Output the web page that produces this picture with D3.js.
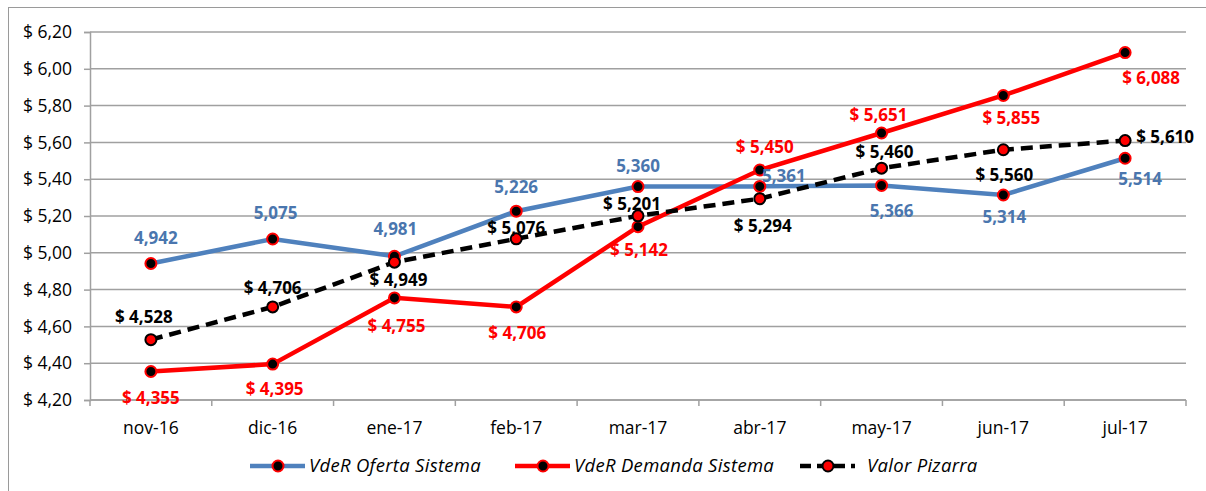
<!DOCTYPE html>
<html>
<head>
<meta charset="utf-8">
<script src="https://cdn.jsdelivr.net/npm/d3@7"></script>
<style>
  body { margin: 0; background: #fff; }
  svg { display: block; font-family: "Open Sans", "Noto Sans", sans-serif; }
</style>
</head>
<body>
<svg></svg>
<script>
///////////////////////////////////////////
// Data
var months = ["nov-16", "dic-16", "ene-17", "feb-17", "mar-17", "abr-17", "may-17", "jun-17", "jul-17"];
var oferta = [4.942, 5.075, 4.981, 5.226, 5.360, 5.361, 5.366, 5.314, 5.514];
var demanda = [4.355, 4.395, 4.755, 4.706, 5.142, 5.450, 5.651, 5.855, 6.088];
var pizarra = [4.528, 4.706, 4.949, 5.076, 5.201, 5.294, 5.460, 5.560, 5.610];
var yTicks = [4.20, 4.40, 4.60, 4.80, 5.00, 5.20, 5.40, 5.60, 5.80, 6.00, 6.20];
var seriesNames = ["VdeR Oferta Sistema", "VdeR Demanda Sistema", "Valor Pizarra"];

// label placement per point: [dx, dy] relative to the point (label centre)
var ofertaLbl = [[5,-26],[3,-26],[1,-27],[0,-24],[0,-21],[24,-10],[10,25],[1,22],[15,21]];
var demandaLbl = [[0,26],[2,25],[2,28],[1,26],[1,23],[5,-23],[-3,-18],[8,22],[26,25]];
var pizarraLbl = [[-7,-23],[0,-19],[4,18],[0,-11],[-6,-12],[3,27],[3,-16],[1,25],[40,-4]];

///////////////////////////////////////////
// Layout
var svgWidth = 1206, svgHeight = 491;
var margin = {top: 32, right: 20, bottom: 91, left: 90};
var width = 1186 - margin.left,
    height = 400 - margin.top;

var svg = d3.select("svg").attr("width", svgWidth).attr("height", svgHeight);

// chart frame
svg.append("rect")
  .attr("x", 8.5).attr("y", 7.5)
  .attr("width", 1210).attr("height", 500)
  .attr("fill", "none").attr("stroke", "#9a9a9a").attr("stroke-width", 1);

var g = svg.append("g").attr("transform", "translate(" + margin.left + "," + margin.top + ")");

var x = d3.scaleBand().domain(months).range([0, width]);
var y = d3.scaleLinear().domain([4.20, 6.20]).range([height, 0]);
var fmt = d3.format(".3f");
function comma(v) { return fmt(v).replace(".", ","); }

// gridlines
g.append("g").selectAll("line").data(yTicks).enter().append("line")
  .attr("x1", 0).attr("x2", width)
  .attr("y1", function(d){ return y(d); }).attr("y2", function(d){ return y(d); })
  .attr("stroke", "#a0a0a0").attr("stroke-width", 1.5);

// y axis
var yAxis = g.append("g")
  .call(d3.axisLeft(y).tickValues(yTicks).tickSize(6).tickPadding(12)
    .tickFormat(function(d){ return "$ " + d3.format(".2f")(d).replace(".", ","); }));
yAxis.select(".domain").attr("stroke", "#a0a0a0").attr("stroke-width", 1.5);
yAxis.selectAll(".tick line").attr("stroke", "#a0a0a0").attr("stroke-width", 1.5);
yAxis.selectAll("text").attr("fill", "#000").style("font-size", "17.5px")
  .style("font-family", "'Open Sans', sans-serif");

// x axis with ticks at category boundaries
var xAxisG = g.append("g").attr("transform", "translate(0," + height + ")");
xAxisG.append("line").attr("x1", 0).attr("x2", width)
  .attr("stroke", "#a0a0a0").attr("stroke-width", 1.5);
xAxisG.selectAll(".tk").data(months).enter().append("line")
  .attr("x1", function(d){ return x(d) + x.bandwidth(); })
  .attr("x2", function(d){ return x(d) + x.bandwidth(); })
  .attr("y1", 0).attr("y2", 6)
  .attr("stroke", "#a0a0a0").attr("stroke-width", 1.5);
xAxisG.append("line").attr("x1", 0).attr("x2", 0).attr("y1", 0).attr("y2", 6)
  .attr("stroke", "#a0a0a0").attr("stroke-width", 1.5);
xAxisG.selectAll("text").data(months).enter().append("text")
  .attr("x", function(d){ return x(d) + x.bandwidth()/2; })
  .attr("y", 34)
  .attr("text-anchor", "middle")
  .style("font-size", "17.5px")
  .text(function(d){ return d; });

///////////////////////////////////////////
// Series
var series = [
  {name: seriesNames[0], values: oferta, color: "#4f81bd", dash: null, mFill: "#000", mStroke: "#ff0000",
   lblColor: "#4a76ae", prefix: "", lbl: ofertaLbl},
  {name: seriesNames[1], values: demanda, color: "#ff0000", dash: null, mFill: "#000", mStroke: "#ff0000",
   lblColor: "#ff0000", prefix: "$ ", lbl: demandaLbl},
  {name: seriesNames[2], values: pizarra, color: "#000", dash: "12,7", mFill: "#ff0000", mStroke: "#000",
   lblColor: "#000", prefix: "$ ", lbl: pizarraLbl}
];

var line = d3.line()
  .x(function(d, i){ return x(months[i]) + x.bandwidth()/2; })
  .y(function(d){ return y(d); });

series.forEach(function(s){
  g.append("path").datum(s.values)
    .attr("d", line)
    .attr("fill", "none")
    .attr("stroke", s.color)
    .attr("stroke-width", 4.5)
    .attr("stroke-dasharray", s.dash);
});

series.forEach(function(s){
  g.selectAll(null).data(s.values).enter().append("circle")
    .attr("cx", function(d, i){ return x(months[i]) + x.bandwidth()/2; })
    .attr("cy", function(d){ return y(d); })
    .attr("r", 5.5)
    .attr("fill", s.mFill)
    .attr("stroke", s.mStroke)
    .attr("stroke-width", 2);
});

series.forEach(function(s){
  g.selectAll(null).data(s.values).enter().append("text")
    .attr("x", function(d, i){ return x(months[i]) + x.bandwidth()/2 + s.lbl[i][0]; })
    .attr("y", function(d, i){ return y(d) + s.lbl[i][1]; })
    .attr("dy", "0.36em")
    .attr("text-anchor", "middle")
    .attr("fill", s.lblColor)
    .style("font-size", "17px")
    .style("font-weight", "bold")
    .text(function(d){ return s.prefix + comma(d); });
});

///////////////////////////////////////////
// Legend
var legendX = [250, 515, 800];
var legend = svg.append("g");
series.forEach(function(s, i){
  var lg = legend.append("g").attr("transform", "translate(" + legendX[i] + ",466)");
  lg.append("line").attr("x1", 0).attr("x2", 55)
    .attr("stroke", s.color).attr("stroke-width", 4.5)
    .attr("stroke-dasharray", s.dash ? "11,6" : null);
  lg.append("circle").attr("cx", 28).attr("r", 5.5)
    .attr("fill", s.mFill).attr("stroke", s.mStroke).attr("stroke-width", 2);
  lg.append("text").attr("x", i === 2 ? 67 : 59).attr("dy", "0.35em")
    .style("font-size", "18.5px").style("font-style", "italic")
    .style("letter-spacing", "0.3px")
    .text(s.name);
});
</script>
</body>
</html>
